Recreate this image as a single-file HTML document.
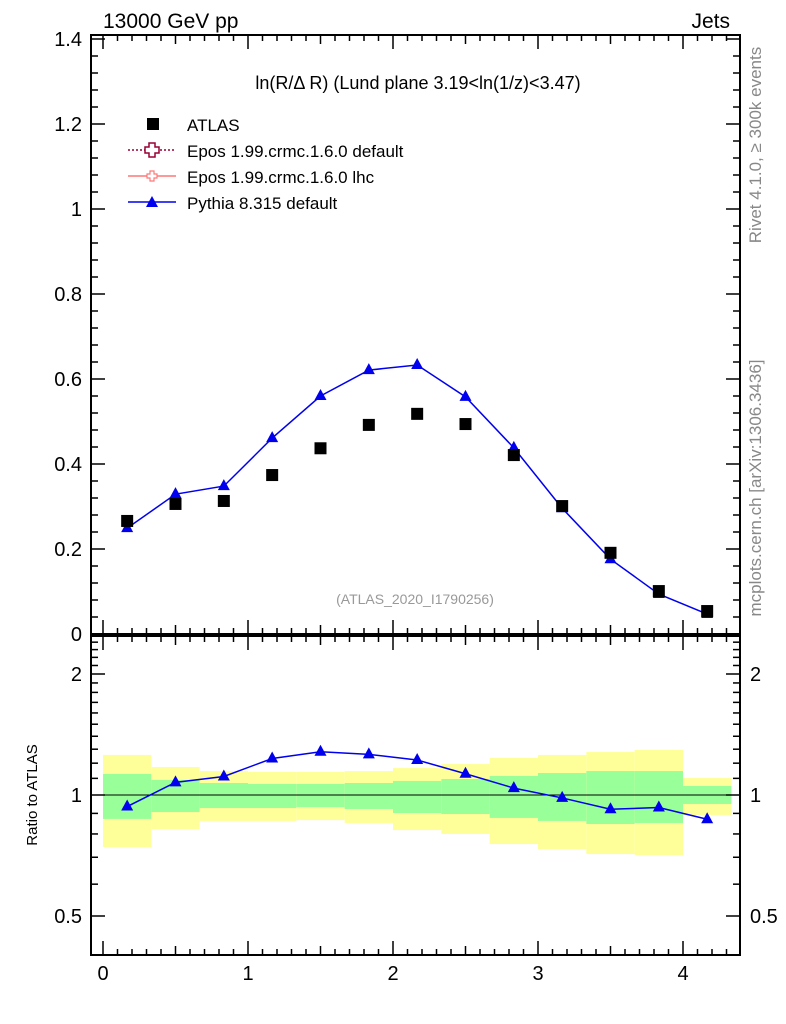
<!DOCTYPE html>
<html><head><meta charset="utf-8"><style>
body{margin:0;background:#fff;}
svg{display:block;font-family:"Liberation Sans",sans-serif;}
</style></head><body>
<svg id="chart" width="786" height="1024" xmlns="http://www.w3.org/2000/svg"></svg>
<script>
const binEdges=[0,0.3333,0.6667,1,1.3333,1.6667,2,2.3333,2.6667,3,3.3333,3.6667,4,4.3333];
const atlasVals=[0.266,0.306,0.313,0.374,0.437,0.492,0.518,0.494,0.421,0.301,0.191,0.101,0.054];
const pythiaVals=[0.249,0.329,0.348,0.461,0.560,0.621,0.633,0.558,0.438,0.296,0.176,0.094,0.047];
const yellowUp=[1.258,1.174,1.147,1.141,1.141,1.147,1.167,1.194,1.236,1.258,1.279,1.294,1.102];
const yellowLo=[0.742,0.823,0.862,0.862,0.866,0.852,0.818,0.800,0.755,0.734,0.713,0.709,0.892];
const greenUp=[1.128,1.090,1.071,1.065,1.065,1.071,1.084,1.096,1.115,1.134,1.147,1.147,1.053];
const greenLo=[0.872,0.907,0.928,0.928,0.933,0.923,0.902,0.897,0.877,0.862,0.847,0.852,0.950];
const xTickLabels=["0","1","2","3","4"];
const yTickLabels=["0","0.2","0.4","0.6","0.8","1","1.2","1.4"];
const rTickLabels=["0.5","1","2"];

const svg=document.getElementById('chart');
const NS="http://www.w3.org/2000/svg";
function mk(tag,attrs,parent){const e=document.createElementNS(NS,tag);for(const k in attrs)e.setAttribute(k,attrs[k]);(parent||svg).appendChild(e);return e;}
const L=91,R=740,T1=35,B1=634,T2=636,B2=955;
const sx=v=>103+v*145;
const sy=v=>634-v*425;
const sr=v=>795-Math.log2(v)*121;

for(let i=0;i<atlasVals.length;i++){
  const x0=sx(binEdges[i]),x1=sx(binEdges[i+1]);
  let r=mk('rect',{x:x0,y:sr(yellowUp[i]),width:x1-x0,height:sr(yellowLo[i])-sr(yellowUp[i]),fill:'#ffff99'});
  
  
  r=mk('rect',{x:x0,y:sr(greenUp[i]),width:x1-x0,height:sr(greenLo[i])-sr(greenUp[i]),fill:'#99ff99'});
  
  
}
mk('line',{x1:L,x2:R,y1:sr(1),y2:sr(1),stroke:'#000','stroke-width':1});

for(const [t,b] of [[T1,B1],[T2,B2]]){
  const f=mk('rect',{x:L,y:t,width:R-L,height:b-t,fill:'none',stroke:'#000','stroke-width':2});
  
  
}
for(let k=0;k<=44;k++){
  const v=k/10,x=sx(v);if(x>R-1)break;
  const len=k%10===0?14:(k%5===0?9:6);
  for(const [t,b] of [[T1,B1],[T2,B2]]){
    mk('line',{x1:x,x2:x,y1:b,y2:b-len,stroke:'#000','stroke-width':1.5});
    mk('line',{x1:x,x2:x,y1:t,y2:t+len,stroke:'#000','stroke-width':1.5});
  }
}
xTickLabels.forEach((s,i)=>{const t=mk('text',{x:sx(i),y:980,'font-size':20,'text-anchor':'middle'});t.textContent=s;

});
for(let k=0;k<=35;k++){
  const v=k*0.04,y=sy(v);
  const len=k%5===0?14:7;
  mk('line',{x1:L,x2:L+len,y1:y,y2:y,stroke:'#000','stroke-width':1.5});
  mk('line',{x1:R,x2:R-len,y1:y,y2:y,stroke:'#000','stroke-width':1.5});
}
yTickLabels.forEach((s,i)=>{const t=mk('text',{x:82,y:sy(i*0.2)+7,'font-size':20,'text-anchor':'end'});t.textContent=s;

});
const rminor=[0.5,0.6,0.7,0.8,0.9,1,1.1,1.2,1.3,1.4,1.5,1.6,1.7,1.8,1.9,2,2.1,2.2,2.3,2.4];
rminor.forEach(v=>{const y=sr(v);const maj=(v===0.5||v===1||v===2);const len=maj?14:7;
  mk('line',{x1:L,x2:L+len,y1:y,y2:y,stroke:'#000','stroke-width':1.5});
  mk('line',{x1:R,x2:R-len,y1:y,y2:y,stroke:'#000','stroke-width':1.5});});
rTickLabels.forEach(s=>{const v=parseFloat(s);
  let t=mk('text',{x:82,y:sr(v)+7,'font-size':20,'text-anchor':'end'});t.textContent=s;
  
  
  t=mk('text',{x:750,y:sr(v)+7,'font-size':20});t.textContent=s;
  
  });

const cx=i=>sx((binEdges[i]+binEdges[i+1])/2);
const tri=(x,y)=>`${x},${y-7} ${x-6},${y+4} ${x+6},${y+4}`;
mk('polyline',{points:pythiaVals.map((v,i)=>cx(i)+','+sy(v)).join(' '),fill:'none',stroke:'#0000ee','stroke-width':1.5});
pythiaVals.forEach((v,i)=>{const p=mk('polygon',{points:tri(cx(i),sy(v)),fill:'#0000ee'});

});
atlasVals.forEach((v,i)=>{const r=mk('rect',{x:cx(i)-6,y:sy(v)-6,width:12,height:12,fill:'#000'});

});
const ratios=pythiaVals.map((v,i)=>v/atlasVals[i]);
mk('polyline',{points:ratios.map((v,i)=>cx(i)+','+sr(v)).join(' '),fill:'none',stroke:'#0000ee','stroke-width':1.5});
ratios.forEach((v,i)=>{const p=mk('polygon',{points:tri(cx(i),sr(v)),fill:'#0000ee'});

});

function txt(s,attrs,name){const t=mk('text',attrs);t.textContent=s;return t;}
txt('13000 GeV pp',{x:103,y:28,'font-size':21},'header-left');
txt('Jets',{x:730,y:28,'font-size':21,'text-anchor':'end'},'header-right');
txt('ln(R/Δ R) (Lund plane 3.19<ln(1/z)<3.47)',{x:418,y:89,'font-size':18,'text-anchor':'middle'},'plot-title');
txt('(ATLAS_2020_I1790256)',{x:415,y:604,'font-size':14,'text-anchor':'middle',fill:'#999'},'analysis-id');
txt('Ratio to ATLAS',{x:0,y:0,'font-size':15,'text-anchor':'middle',transform:'translate(37,795) rotate(-90)'},'ratio-y-title');
txt('Rivet 4.1.0, ≥ 300k events',{x:0,y:0,'font-size':17,'text-anchor':'middle',fill:'#888',transform:'translate(761,145) rotate(-90)'},'rivet-label');
txt('mcplots.cern.ch [arXiv:1306.3436]',{x:0,y:0,'font-size':17,'text-anchor':'middle',fill:'#888',transform:'translate(761,488) rotate(-90)'},'mcplots-label');
const lg=mk('g',{});
mk('rect',{x:147,y:118,width:12,height:12,fill:'#000'},lg);
mk('line',{x1:128,x2:176,y1:150,y2:150,stroke:'#990033','stroke-width':1.5,'stroke-dasharray':'2,2'},lg);
mk('path',{d:'M149,143h6v4h4v6h-4v4h-6v-4h-4v-6h4z',fill:'#fff',stroke:'#990033','stroke-width':1.5},lg);
mk('line',{x1:128,x2:176,y1:176,y2:176,stroke:'#ff7777','stroke-width':1.5},lg);
mk('path',{d:'M150,171h4v3h3v4h-3v3h-4v-3h-3v-4h3z',fill:'#fff',stroke:'#ff7777','stroke-width':1.2},lg);
mk('line',{x1:128,x2:176,y1:202,y2:202,stroke:'#0000ee','stroke-width':1.5},lg);
mk('polygon',{points:tri(152,203),fill:'#0000ee'},lg);
[['ATLAS',131],['Epos 1.99.crmc.1.6.0 default',157],['Epos 1.99.crmc.1.6.0 lhc',183],['Pythia 8.315 default',209]].forEach(([s,y])=>{
  const t=mk('text',{x:187,y:y,'font-size':17},lg);t.textContent=s;
  
  });
</script>
</body></html>
